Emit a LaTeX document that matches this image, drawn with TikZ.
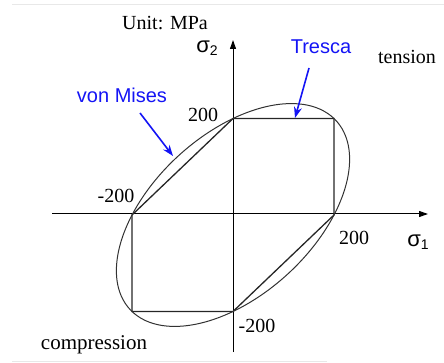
\documentclass[tikz,border=0pt]{standalone}
\usepackage{fontspec}
\setmainfont{Liberation Serif}
\newfontfamily\arialf{Liberation Sans}
\usetikzlibrary{arrows.meta}
\definecolor{labelblue}{RGB}{20,20,245}
\definecolor{curvegray}{RGB}{50,50,50}
\definecolor{framegray}{RGB}{232,232,232}
\newcommand{\sigmalab}[1]{{\arialf\fontsize{22}{22}\selectfont σ\raisebox{-0.25ex}{\fontsize{14}{14}\selectfont #1}}}
\begin{document}
\begin{tikzpicture}[x=1pt,y=-1pt,
  serifl/.style={font=\fontsize{20}{22}\selectfont, inner sep=0pt},
  sansl/.style={font=\arialf\fontsize{20}{22}\selectfont, text=labelblue, inner sep=0pt},
  axisline/.style={line width=1pt, -{Triangle[length=9pt,width=6pt]}},
  tresline/.style={line width=1.3pt, black!85},
  pointer/.style={line width=1.6pt, labelblue, -{Stealth[length=11pt,width=8pt]}},
  curve/.style={line width=1pt, curvegray}]
\useasboundingbox (0,0) rectangle (444,363);
\draw[framegray, line width=0.8pt] (12,4) -- (444,4);
\draw[framegray, line width=0.8pt] (12,361) -- (327,361);
% axes
\coordinate (xs) at (52,214);
\coordinate (xe) at (428,214);
\coordinate (ys) at (233,352);
\coordinate (ye) at (233,40);
\draw[axisline] (xs) -- (xe);
\draw[axisline] (ys) -- (ye);
\begin{scope}[shift={(233pt,-215pt)}, x=0.505pt, y=0.4825pt]
  \coordinate (T) at (0,200);
  \coordinate (TR) at (200,200);
  \coordinate (R) at (200,0);
  \coordinate (B) at (0,-200);
  \coordinate (BL) at (-200,-200);
  \coordinate (L) at (-200,0);
  \draw[tresline] (T) -- (TR) -- (R) -- (B) -- (BL) -- (L) -- cycle;
  \draw[curve] plot[domain=0:360, samples=120, smooth cycle, variable=\t]
    ({200*(cos(\t)+sin(\t)/sqrt(3))}, {200*(cos(\t)-sin(\t)/sqrt(3))});
\end{scope}
% labels
\node[serifl] (unit) at (165,23) {Unit: MPa};
\node[inner sep=0pt] (s2) at (207,48) {\sigmalab{2}};
\node[sansl] (tresca) at (321,47) {Tresca};
\node[serifl] (tension) at (407,57) {tension};
\node[sansl] (vonmises) at (122,95) {von Mises};
\node[serifl] (n200t) at (203,115) {200};
\node[serifl] (n200l) at (116,196) {-200};
\node[serifl] (n200r) at (354,238) {200};
\node[inner sep=0pt] (s1) at (418,242) {\sigmalab{1}};
\node[serifl] (n200b) at (257,326) {-200};
\node[serifl, font=\fontsize{21}{22}\selectfont] (comp) at (94,345) {compression};
\coordinate (vmstart) at (140,113);
\coordinate (vmend) at (173,156);
\coordinate (trstart) at (309,68);
\coordinate (trend) at (295,118);
\draw[pointer] (vmstart) -- (vmend);
\draw[pointer] (trstart) -- (trend);
\end{tikzpicture}
\end{document}
